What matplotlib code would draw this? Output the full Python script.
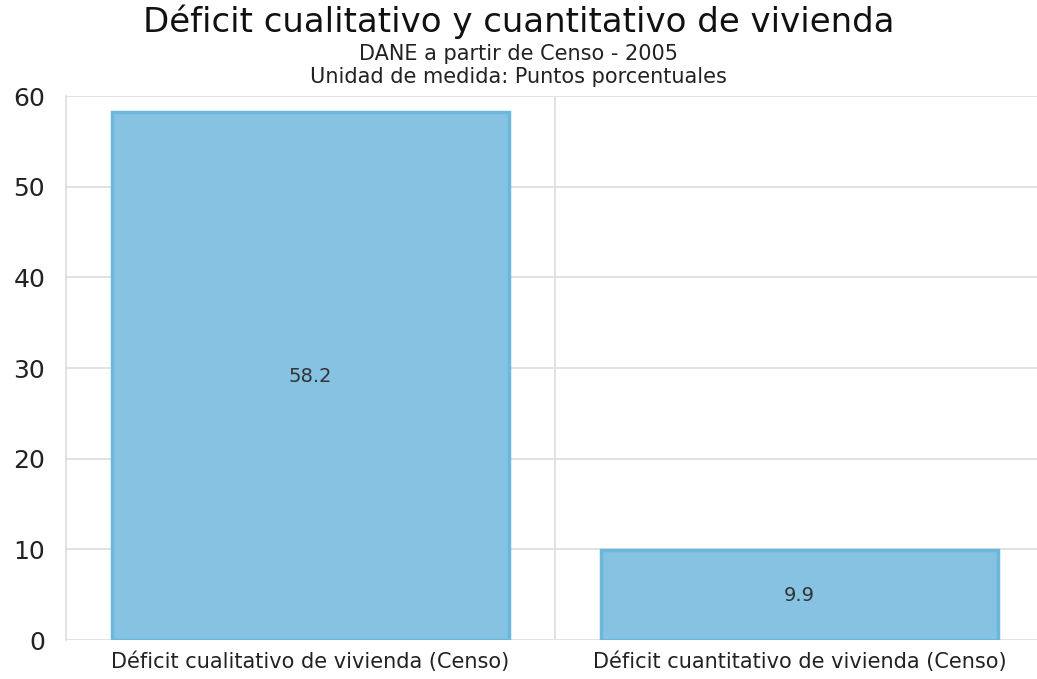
import matplotlib.pyplot as plt

categories = ['Déficit cualitativo de vivienda (Censo)', 'Déficit cuantitativo de vivienda (Censo)']
values = [58.2, 9.9]

plt.rcParams['font.family'] = ['DejaVu Sans']

fig = plt.figure(figsize=(10.37, 6.79), dpi=100)
ax = fig.add_axes([66 / 1037, 39 / 679, 978 / 1037, 544 / 679])

x = list(range(len(values)))
bars = ax.bar(x, values, width=0.81, color='#86c2e1', edgecolor='#6cb8dc', linewidth=2.5, zorder=2)

# value labels in the middle of each bar
for rect, v in zip(bars, values):
    ax.text(rect.get_x() + rect.get_width() / 2, v / 2, '%.1f' % v,
            ha='center', va='center', fontsize=14, color='#333333', zorder=3)

ax.set_xlim(-0.5, 1.5)
ax.set_ylim(0, 60)
ax.set_yticks([0, 10, 20, 30, 40, 50, 60])
ax.set_xticks(x)
ax.set_xticklabels(categories, fontsize=15, color='#222222')
ax.set_xticks([0.5], minor=True)
ax.tick_params(axis='y', labelsize=18, length=0, pad=15, colors='#222222')
ax.tick_params(axis='x', which='both', length=0, pad=8)
ax.yaxis.grid(True, color='#dddddd', linewidth=1.2, zorder=0)
ax.xaxis.grid(True, which='minor', color='#dddddd', linewidth=1.2, zorder=0)
for s in ['top', 'right', 'bottom']:
    ax.spines[s].set_visible(False)
ax.spines['left'].set_color('#dddddd')
ax.spines['left'].set_linewidth(1.2)

fig.text(0.5, 0.968, 'Déficit cualitativo y cuantitativo de vivienda', ha='center', va='center',
         fontsize=24.5, color='#111111')
fig.text(0.5, 0.921, 'DANE a partir de Censo - 2005', ha='center', va='center', fontsize=15, color='#222222')
fig.text(0.5, 0.886, 'Unidad de medida: Puntos porcentuales', ha='center', va='center', fontsize=15, color='#222222')

fig.savefig('out.png', dpi=100)
